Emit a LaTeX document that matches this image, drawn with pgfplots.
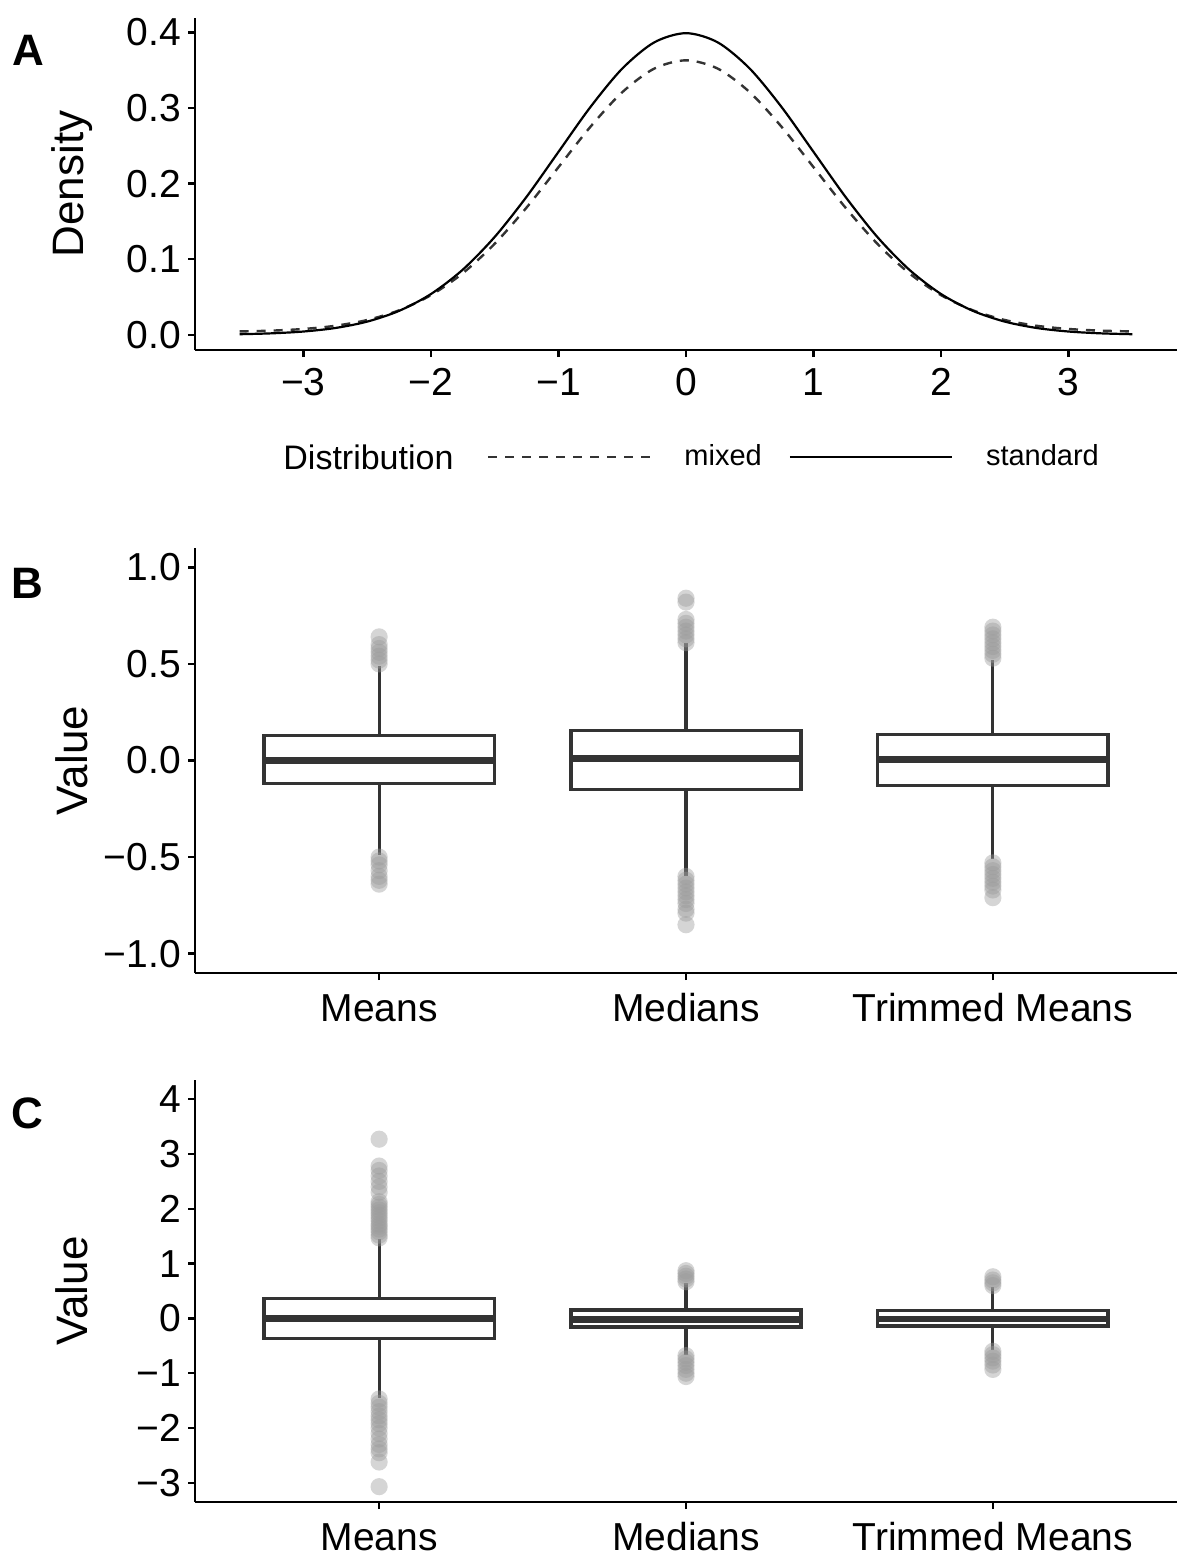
\documentclass[border=0pt]{standalone}
\usepackage{fontspec}
\setmainfont{Liberation Sans}
\usepackage{pgfplots}
\usepgfplotslibrary{statistics}
\pgfplotsset{compat=1.18}
\definecolor{c333}{HTML}{333333}
\definecolor{outl}{HTML}{9A9A9A}

\pgfplotsset{
  gg/.style={
    scale only axis, width=491pt,
    axis x line=bottom, axis y line=left,
    axis line style={-, line width=1.2pt, black},
    tick align=outside, major tick length=3.5pt,
    tick style={line width=1.2pt, black},
    ticklabel style={font=\fontsize{19.5}{21}\selectfont, text=black},
    xticklabel style={text height=14pt, text depth=0pt, inner sep=0pt},
    label style={font=\fontsize{22}{24}\selectfont},
    ylabel style={at={(axis description cs:-0.125,0.5)}, anchor=center},
    clip=false,
  },
  bx/.style={
    gg, xmin=0.4, xmax=3.6, xtick={1,2,3},
    xticklabels={Means,Medians,Trimmed Means},
    xticklabel style={yshift=-6.5pt},
    ylabel={Value},
    boxplot/draw direction=y,
    boxplot/whisker extend=0,
    boxplot/box extend=0.75,
    boxplot/every box/.style={draw=c333, fill=white, line width=1.6pt},
    boxplot/every whisker/.style={draw=c333, line width=1.6pt},
    boxplot/every median/.style={draw=c333, line width=3.3pt},
  },
  outp/.style={mark=*, mark size=4.3pt,
    mark options={draw opacity=0, line width=0pt, fill=outl, fill opacity=0.42}},
}

\begin{document}
\begin{tikzpicture}
\useasboundingbox (0,0) rectangle (588.5pt,-778pt);

% ---- A: densities
\begin{axis}[gg, at={(97.5pt,-175pt)}, anchor=south west, height=166pt,
  xmin=-3.85, xmax=3.85, ymin=-0.02, ymax=0.419,
  xtick={-3,-2,-1,0,1,2,3}, xticklabels={−3,−2,−1,0,1,2,3},
  ytick={0,0.1,0.2,0.3,0.4}, yticklabels={0.0,0.1,0.2,0.3,0.4},
  xticklabel style={yshift=-5pt},
  ylabel={Density},
  legend columns=2,
  legend image code/.code={\draw[#1] (0pt,0pt) -- (81pt,0pt); \path (84pt,0pt);},
  legend style={at={(0.297,-0.322)}, anchor=west, draw=none, fill=none,
    inner sep=0pt, column sep=0pt,
    font=\fontsize{14.5}{16}\selectfont,
    nodes={inner xsep=13.5pt, inner ysep=0pt}},
]
\addplot[c333, line width=1.2pt, dash pattern=on 4.5pt off 4pt, smooth] coordinates {
(-3.5,0.00453)(-3.25,0.00561)(-3,0.00780)(-2.75,0.01202)(-2.5,0.01965)(-2.25,0.03246)
(-2,0.05250)(-1.75,0.08158)(-1.5,0.12051)(-1.25,0.16835)(-1,0.22174)(-0.75,0.27501)
(-0.5,0.32084)(-0.25,0.35199)(0,0.36304)(0.25,0.35199)(0.5,0.32084)(0.75,0.27501)
(1,0.22174)(1.25,0.16835)(1.5,0.12051)(1.75,0.08158)(2,0.05250)(2.25,0.03246)
(2.5,0.01965)(2.75,0.01202)(3,0.00780)(3.25,0.00561)(3.5,0.00453)};
\addlegendentry{mixed}
\addplot[black, line width=1.1pt, smooth] coordinates {
(-3.5,0.00087)(-3.25,0.00203)(-3,0.00443)(-2.75,0.00909)(-2.5,0.01753)(-2.25,0.03174)
(-2,0.05399)(-1.75,0.08628)(-1.5,0.12952)(-1.25,0.18265)(-1,0.24197)(-0.75,0.30114)
(-0.5,0.35207)(-0.25,0.38667)(0,0.39894)(0.25,0.38667)(0.5,0.35207)(0.75,0.30114)
(1,0.24197)(1.25,0.18265)(1.5,0.12952)(1.75,0.08628)(2,0.05399)(2.25,0.03174)
(2.5,0.01753)(2.75,0.00909)(3,0.00443)(3.25,0.00203)(3.5,0.00087)};
\addlegendentry{standard}
\end{axis}
\node[anchor=west, font=\fontsize{17}{19}\selectfont, inner sep=0pt] at (141.5pt,-228.5pt) {Distribution};

% ---- B: sampling distributions, standard normal
\begin{axis}[bx, at={(97.5pt,-486.5pt)}, anchor=south west, height=212.5pt,
  ymin=-1.1, ymax=1.1,
  ytick={-1,-0.5,0,0.5,1}, yticklabels={−1.0,−0.5,0.0,0.5,1.0},
]
\addplot[outp, boxplot prepared={draw position=1, lower whisker=-0.49, lower quartile=-0.12,
  median=0.0, upper quartile=0.13, upper whisker=0.49}]
  table[row sep=\\, y index=0] {data\\ 0.50\\ 0.52\\ 0.54\\ 0.56\\ 0.58\\ 0.60\\ 0.64\\
  -0.50\\ -0.52\\ -0.54\\ -0.57\\ -0.60\\ -0.62\\ -0.64\\};
\addplot[outp, boxplot prepared={draw position=2, lower whisker=-0.60, lower quartile=-0.15,
  median=0.01, upper quartile=0.155, upper whisker=0.61}]
  table[row sep=\\, y index=0] {data\\ 0.61\\ 0.63\\ 0.65\\ 0.67\\ 0.69\\ 0.71\\ 0.73\\ 0.82\\ 0.84\\
  -0.60\\ -0.62\\ -0.64\\ -0.66\\ -0.68\\ -0.70\\ -0.72\\ -0.74\\ -0.77\\ -0.79\\ -0.85\\};
\addplot[outp, boxplot prepared={draw position=3, lower whisker=-0.51, lower quartile=-0.13,
  median=0.005, upper quartile=0.135, upper whisker=0.52}]
  table[row sep=\\, y index=0] {data\\ 0.53\\ 0.55\\ 0.57\\ 0.59\\ 0.61\\ 0.63\\ 0.65\\ 0.67\\ 0.69\\
  -0.53\\ -0.55\\ -0.57\\ -0.59\\ -0.61\\ -0.63\\ -0.65\\ -0.67\\ -0.71\\};
\end{axis}

% ---- C: sampling distributions, mixed
\begin{axis}[bx, at={(97.5pt,-751pt)}, anchor=south west, height=211pt,
  ymin=-3.35, ymax=4.35,
  ytick={-3,-2,-1,0,1,2,3,4}, yticklabels={−3,−2,−1,0,1,2,3,4},
]
\addplot[outp, boxplot prepared={draw position=1, lower whisker=-1.45, lower quartile=-0.36,
  median=0.0, upper quartile=0.36, upper whisker=1.45}]
  table[row sep=\\, y index=0] {data\\ 1.47\\ 1.52\\ 1.58\\ 1.63\\ 1.68\\ 1.72\\ 1.78\\ 1.83\\ 1.88\\
  1.93\\ 1.98\\ 2.03\\ 2.08\\ 2.13\\ 2.30\\ 2.40\\ 2.50\\ 2.60\\ 2.70\\ 2.78\\ 3.27\\
  -1.47\\ -1.55\\ -1.62\\ -1.70\\ -1.78\\ -1.85\\ -1.92\\ -2.00\\ -2.10\\ -2.20\\ -2.30\\
  -2.38\\ -2.45\\ -2.62\\ -3.07\\};
\addplot[outp, boxplot prepared={draw position=2, lower whisker=-0.66, lower quartile=-0.155,
  median=-0.02, upper quartile=0.155, upper whisker=0.65}]
  table[row sep=\\, y index=0] {data\\ 0.67\\ 0.72\\ 0.77\\ 0.82\\ 0.87\\
  -0.68\\ -0.74\\ -0.80\\ -0.86\\ -0.93\\ -1.00\\ -1.06\\};
\addplot[outp, boxplot prepared={draw position=3, lower whisker=-0.58, lower quartile=-0.14,
  median=-0.01, upper quartile=0.14, upper whisker=0.57}]
  table[row sep=\\, y index=0] {data\\ 0.60\\ 0.65\\ 0.70\\ 0.76\\
  -0.60\\ -0.66\\ -0.72\\ -0.78\\ -0.85\\ -0.93\\};
\end{axis}

\node[font=\bfseries\fontsize{22}{24}\selectfont] at (14pt,-25pt) {A};
\node[font=\bfseries\fontsize{22}{24}\selectfont] at (13.5pt,-291.5pt) {B};
\node[font=\bfseries\fontsize{22}{24}\selectfont] at (13.5pt,-556.5pt) {C};
\end{tikzpicture}
\end{document}
